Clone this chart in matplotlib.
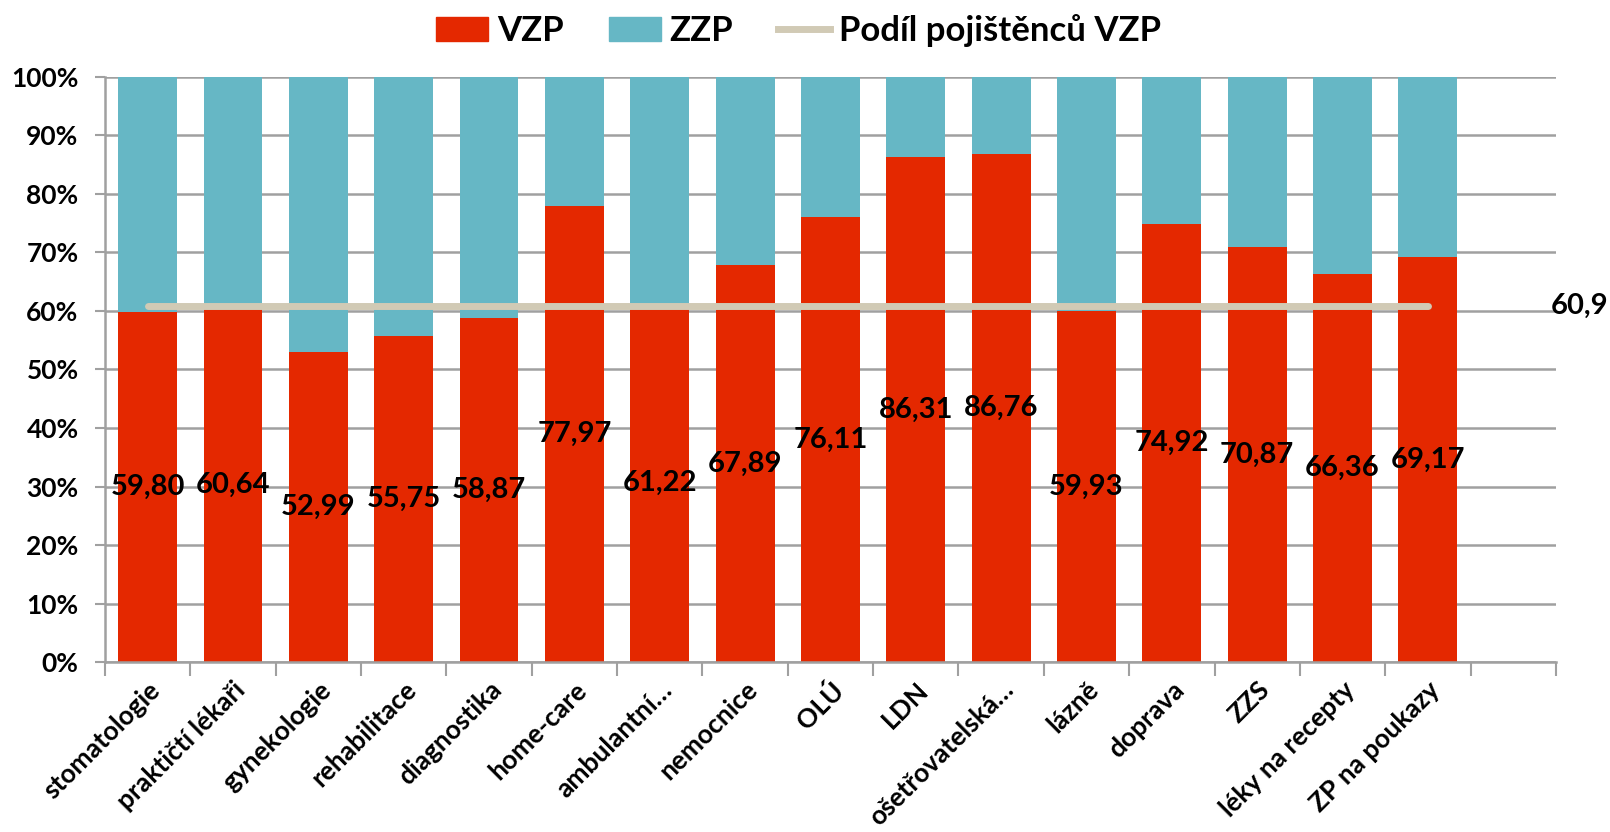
import numpy as np
import matplotlib
matplotlib.use("Agg")
import matplotlib.pyplot as plt
from matplotlib.lines import Line2D
from matplotlib.patches import Patch

categories = ["stomatologie", "praktičtí lékaři", "gynekologie", "rehabilitace",
              "diagnostika", "home-care", "ambulantní…", "nemocnice", "OLÚ", "LDN",
              "ošetřovatelská…", "lázně", "doprava", "ZZS", "léky na recepty",
              "ZP na poukazy"]
vzp = [59.80, 60.64, 52.99, 55.75, 58.87, 77.97, 61.22, 67.89, 76.11, 86.31,
       86.76, 59.93, 74.92, 70.87, 66.36, 69.17]
zzp = [40.20, 39.36, 47.01, 44.25, 41.13, 22.03, 38.78, 32.11, 23.89, 13.69,
       13.24, 40.07, 25.08, 29.13, 33.64, 30.83]
podil_vzp = 60.9

red = "#E42800"
teal = "#66B7C5"
beige = "#D1CAB5"
grey = "#A0A0A0"

plt.rcParams['font.family'] = ['Lato', 'DejaVu Sans']

fig = plt.figure(figsize=(16.1, 8.32), dpi=100)
ax = fig.add_axes([0.0652, 0.2043, 0.9012, 0.7032])

x = np.arange(len(categories))
ax.bar(x, vzp, width=0.69, color=red, zorder=2)
ax.bar(x, zzp, width=0.69, bottom=vzp, color=teal, zorder=2)
ax.plot([x[0], x[-1]], [podil_vzp, podil_vzp], color=beige, lw=5,
        solid_capstyle='round', zorder=3)

# data labels in the middle of the VZP part
for xi, v in zip(x, vzp):
    ax.text(xi, v / 2, f"{v:.2f}".replace(".", ","), ha='center', va='center',
            fontsize=21, fontweight='bold', zorder=4)
ax.annotate(f"{podil_vzp:.1f}".replace(".", ","), xy=(0.999, podil_vzp),
            xycoords=('figure fraction', 'data'), ha='right', va='center',
            fontsize=21, fontweight='bold', annotation_clip=False)

ax.set_xlim(-0.5, 16.5)
ax.set_ylim(0, 100)
ax.set_yticks(np.arange(0, 101, 10))
ax.set_yticklabels([f"{v}%" for v in range(0, 101, 10)], fontsize=19, fontweight='bold')
ax.yaxis.grid(True, color=grey, lw=1.8, zorder=0)

ax.set_xticks(x)
ax.set_xticklabels(categories, rotation=45, ha='right', rotation_mode='anchor',
                   fontsize=19, fontweight='bold')
ax.set_xticks(np.arange(-0.5, 17, 1), minor=True)
ax.tick_params(axis='x', which='major', length=0, pad=11)
ax.tick_params(axis='x', which='minor', length=10, width=1.5, color=grey)
ax.tick_params(axis='y', length=7, width=1.5, color=grey, pad=12)

for s in ['top', 'right']:
    ax.spines[s].set_visible(False)
for s in ['left', 'bottom']:
    ax.spines[s].set_color(grey)
    ax.spines[s].set_linewidth(1.8)

handles = [Patch(color=red, label='VZP'), Patch(color=teal, label='ZZP'),
           Line2D([0], [0], color=beige, lw=5, label='Podíl pojištěnců VZP')]
fig.legend(handles=handles, loc='center', bbox_to_anchor=(0.496, 0.963), ncol=3,
           frameon=False, prop={'size': 25, 'weight': 'bold'},
           handlelength=1.5, handleheight=0.65, columnspacing=1.3, handletextpad=0.25,
           borderpad=0.1)

fig.savefig("out.png", dpi=100)
